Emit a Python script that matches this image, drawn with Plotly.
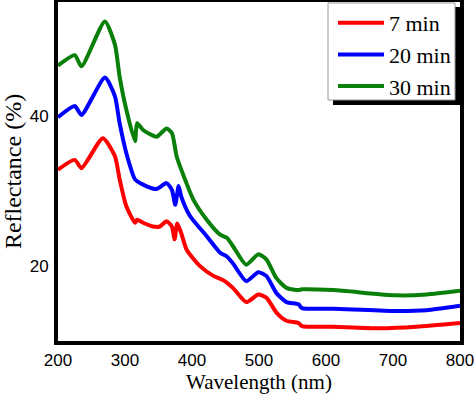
import plotly.graph_objects as go

# ---- data ----
wl_red = [200, 225, 235, 267, 285, 292, 302, 315, 318, 327, 342, 352, 362, 370, 374, 378, 384, 392, 412, 432, 447, 461, 481, 499, 511, 526, 541, 559, 564, 611, 680, 735, 800]
r_red = [32.9, 34.2, 33.1, 37.1, 34.7, 31.6, 28.0, 25.8, 26.2, 25.8, 25.3, 25.3, 26.0, 25.3, 23.6, 25.7, 24.4, 22.2, 20.0, 18.7, 18.1, 17.1, 15.2, 16.2, 15.8, 13.8, 12.7, 12.4, 12.0, 11.9, 11.7, 11.9, 12.4]

wl_blue = [200, 225, 235, 270, 285, 292, 302, 315, 327, 347, 362, 370, 375, 380, 384, 397, 422, 442, 452, 461, 481, 499, 511, 526, 541, 559, 564, 611, 700, 750, 800]
r_blue = [39.9, 41.4, 40.2, 45.2, 42.7, 39.1, 35.1, 31.6, 30.9, 30.3, 31.1, 30.2, 28.2, 30.7, 29.3, 26.7, 24.0, 21.8, 21.3, 20.4, 18.0, 19.2, 18.7, 16.4, 15.2, 14.9, 14.4, 14.3, 14.0, 14.1, 14.7]

wl_green = [200, 225, 235, 270, 285, 292, 302, 315, 318, 327, 347, 362, 370, 377, 384, 402, 422, 442, 452, 461, 481, 499, 511, 526, 541, 559, 564, 611, 705, 750, 800]
r_green = [46.8, 48.2, 46.7, 52.7, 49.6, 45.3, 40.9, 36.7, 39.1, 38.2, 37.3, 38.4, 37.8, 34.7, 32.9, 28.9, 26.2, 24.2, 23.8, 22.7, 20.2, 21.6, 20.9, 18.4, 17.1, 16.8, 16.9, 16.8, 16.1, 16.2, 16.7]

series_names = ["7 min", "20 min", "30 min"]
x_ticks = [200, 300, 400, 500, 600, 700, 800]
y_ticks = [20, 40]

colors = ["#ff0000", "#0000ff", "#0a800a"]

fig = go.Figure()
for name, xs, ys, c in zip(series_names, [wl_red, wl_blue, wl_green], [r_red, r_blue, r_green], colors):
    fig.add_trace(go.Scatter(x=xs, y=ys, mode="lines", name=name,
                             line=dict(color=c, width=4, shape="spline", smoothing=0.6)))

PW, PH = 402, 339  # plot area size in px
# legend box (shadow + white box)
fig.add_shape(type="rect", xref="paper", yref="paper",
              x0=(333 - 58) / PW, x1=1.0, y0=(341 - 105) / PH, y1=(341 - 7) / PH,
              fillcolor="black", line=dict(width=0), layer="above")
fig.add_shape(type="rect", xref="paper", yref="paper",
              x0=(328 - 58) / PW, x1=(455 - 58) / PW, y0=(341 - 100) / PH, y1=(341 - 3) / PH,
              fillcolor="white", line=dict(color="#999999", width=1), layer="above")

fig.update_layout(
    width=474, height=395,
    margin=dict(l=58, r=14, t=2, b=54, autoexpand=False),
    paper_bgcolor="white", plot_bgcolor="white",
    showlegend=True,
    legend=dict(x=(333 - 58) / PW, y=(341 - 2) / PH, xanchor="left", yanchor="top",
                bgcolor="rgba(0,0,0,0)", borderwidth=0,
                font=dict(family="Liberation Serif", size=22, color="black"),
                tracegroupgap=0, itemwidth=46),
    xaxis=dict(range=[200, 800], tickvals=x_ticks, showgrid=False, zeroline=False,
               showline=True, mirror=True, linecolor="black", linewidth=4,
               ticks="", ticklabelstandoff=1, ticklabeloverflow="allow",
               tickfont=dict(family="Liberation Sans", size=17, color="black"),
               title=dict(text="Wavelength (nm)", standoff=4,
                          font=dict(family="Liberation Serif", size=21, color="black"))),
    yaxis=dict(range=[10.0, 55.3], tickvals=y_ticks, showgrid=False, zeroline=False,
               showline=True, mirror=True, linecolor="black", linewidth=4,
               ticks="", ticklabelstandoff=2, ticklabeloverflow="allow",
               tickfont=dict(family="Liberation Sans", size=17, color="black"),
               title=dict(text="Reflectance (%)", standoff=13,
                          font=dict(family="Liberation Serif", size=24, color="black"))),
)

fig.write_html("out.html", config={"displayModeBar": False},
               post_script="document.body.style.margin='0';document.body.style.padding='0';")
